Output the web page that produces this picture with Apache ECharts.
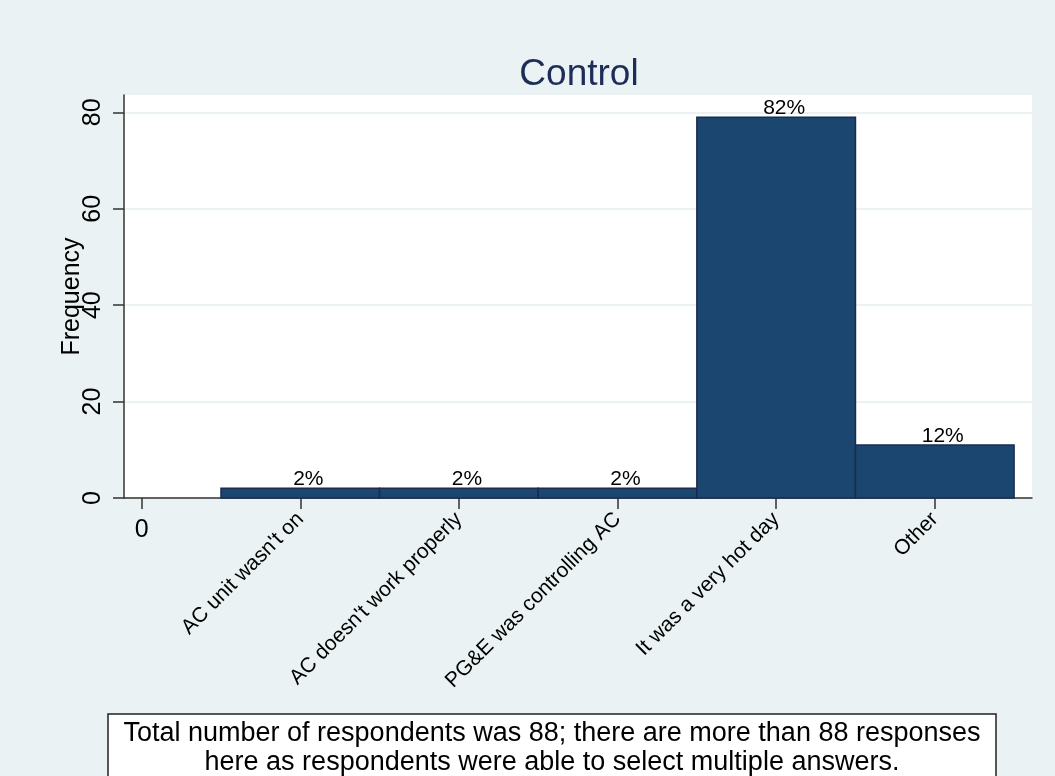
<!DOCTYPE html>
<html>
<head>
<meta charset="utf-8">
<script src="https://cdn.jsdelivr.net/npm/echarts@6/dist/echarts.min.js"></script>
<style>
html,body{margin:0;padding:0;background:#eaf2f3;}
#chart{width:1055px;height:776px;}
</style>
</head>
<body>
<div id="chart"></div>
<script>
// ---- data ----
const categories = ["AC unit wasn't on", "AC doesn't work properly", "PG&E was controlling AC", "It was a very hot day", "Other"];
const positions = [1, 2, 3, 4, 5];
const counts = [2, 2, 2, 79, 11];
const pctLabels = ["2%", "2%", "2%", "82%", "12%"];
const yTicks = [0, 20, 40, 60, 80];
const xTickValues = [0, 1, 2, 3, 4, 5];
const titleText = "Control";
const yName = "Frequency";
const noteLines = ["Total number of respondents was 88; there are more than 88 responses", "here as respondents were able to select multiple answers."];

const FONT = "'Liberation Sans', Arial, sans-serif";
const chart = echarts.init(document.getElementById('chart'));
const seriesData = positions.map((p, i) => [p, counts[i]]);

chart.setOption({
  backgroundColor: '#eaf2f3',
  animation: false,
  title: {
    text: titleText,
    left: 574, top: 51, textAlign: 'center',
    textStyle: {fontFamily: FONT, fontSize: 37, fontWeight: 'normal', color: '#1c2d57'}
  },
  grid: {left: 124, right: 23, top: 95, bottom: 278, show: true, backgroundColor: '#ffffff', borderWidth: 0},
  xAxis: [{
    type: 'value', min: -0.1116, max: 5.613, position: 'bottom',
    axisLine: {show: true, onZero: false, lineStyle: {color: '#333', width: 1.5}},
    axisTick: {show: true, length: 11, customValues: xTickValues, lineStyle: {color: '#333', width: 1.5}},
    splitLine: {show: false},
    axisLabel: {
      customValues: positions, rotate: 45, margin: 18,
      fontFamily: FONT, fontSize: 21, color: '#000',
      formatter: v => categories[Math.round(v) - 1]
    }
  }, {
    type: 'value', min: -0.1116, max: 5.613, position: 'bottom',
    axisLine: {show: false, onZero: false}, axisTick: {show: false}, splitLine: {show: false},
    axisLabel: {customValues: [0], margin: 20, fontFamily: FONT, fontSize: 25, color: '#000', formatter: v => String(v)}
  }],
  yAxis: {
    type: 'value', min: 0, max: 83.6, interval: 20,
    name: yName, nameLocation: 'middle', nameRotate: 90, nameGap: 39, nameMoveOverlap: false,
    nameTextStyle: {fontFamily: FONT, fontSize: 25, color: '#000'},
    axisLine: {show: true, onZero: false, lineStyle: {color: '#333', width: 1.5}},
    axisTick: {show: true, length: 11, customValues: yTicks, lineStyle: {color: '#333', width: 1.5}},
    axisLabel: {customValues: yTicks, rotate: 90, margin: 18, fontFamily: FONT, fontSize: 25, color: '#000'},
    splitLine: {show: true, lineStyle: {color: '#eaf2f3', width: 2}}
  },
  series: [{
    type: 'custom',
    xAxisIndex: 0,
    data: seriesData,
    renderItem: function (params, api) {
      const x = api.value(0), y = api.value(1);
      const p0 = api.coord([x - 0.5, y]);
      const p1 = api.coord([x + 0.5, 0]);
      return {
        type: 'rect',
        shape: {x: p0[0], y: p0[1], width: p1[0] - p0[0], height: p1[1] - p0[1]},
        style: {fill: '#1b4670', stroke: '#1c2b4e', lineWidth: 1.5},
        textContent: {style: {text: pctLabels[params.dataIndex], fontFamily: FONT, fontSize: 21, fill: '#000'}},
        textConfig: {position: 'top', distance: -2, offset: [8, 0]}
      };
    }
  }],
  graphic: [{
    type: 'rect', x: 108, y: 714,
    shape: {x: 0, y: 0, width: 888, height: 80},
    style: {fill: '#ffffff', stroke: '#222', lineWidth: 1.5}
  }, {
    type: 'text', x: 552, y: 719,
    style: {text: noteLines.join('\n'), textAlign: 'center', textVerticalAlign: 'top', fontFamily: FONT, fontSize: 27, lineHeight: 29, fill: '#000'}
  }]
});
</script>
</body>
</html>
